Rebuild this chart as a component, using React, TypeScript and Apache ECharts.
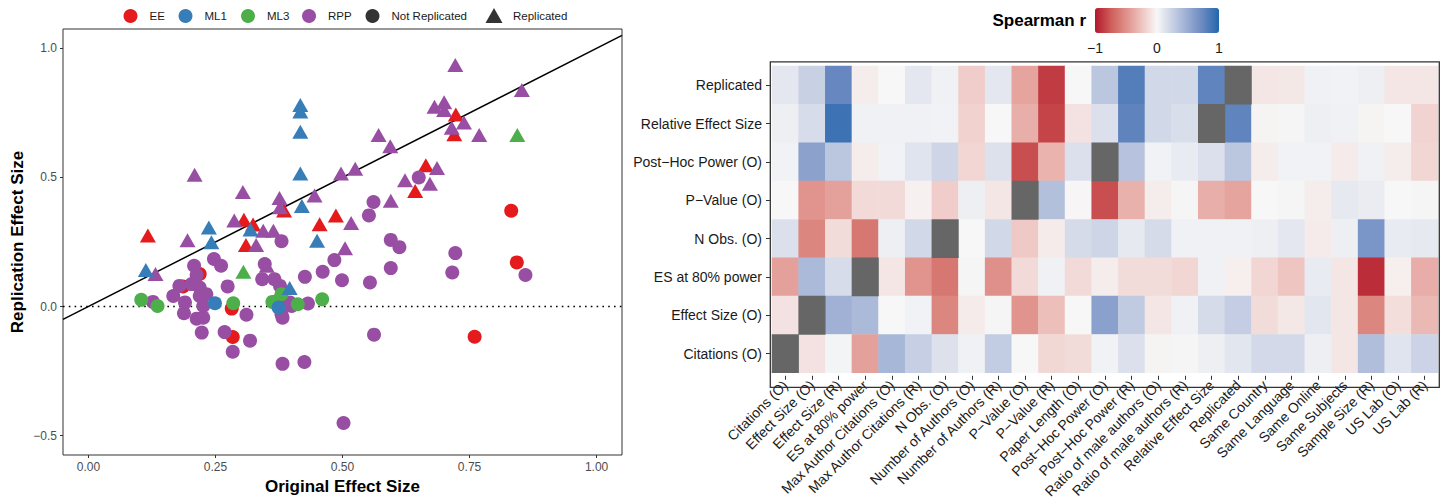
import React, { useEffect, useRef } from "react";
import * as echarts from "echarts";

// ---------- Scatter data (original vs replication effect size) ----------
const eeReplicated = [[0.117,0.275],[0.306,0.336],[0.324,0.318],[0.31,0.238],[0.385,0.372],[0.455,0.319],[0.487,0.353],[0.643,0.448],[0.664,0.547],[0.723,0.744],[0.72,0.667]];
const eeNotReplicated = [[0.186,0.078],[0.219,0.126],[0.282,-0.008],[0.284,-0.118],[0.76,-0.117],[0.832,0.371],[0.843,0.171]];
const ml1Replicated = [[0.113,0.142],[0.237,0.306],[0.242,0.249],[0.319,0.298],[0.417,0.781],[0.417,0.755],[0.417,0.677],[0.417,0.515],[0.42,0.389],[0.45,0.255],[0.396,0.072]];
const ml1NotReplicated = [[0.249,0.013],[0.374,-0.004]];
const ml3Replicated = [[0.305,0.135],[0.844,0.664]];
const ml3NotReplicated = [[0.104,0.026],[0.136,0.002],[0.285,0.013],[0.362,0.018],[0.38,0.048],[0.412,0.009],[0.46,0.028]];
const rppReplicated = [[0.132,0.126],[0.195,0.257],[0.209,0.51],[0.287,0.333],[0.304,0.444],[0.33,0.238],[0.344,0.294],[0.364,0.294],[0.351,0.158],[0.376,0.42],[0.377,0.385],[0.445,0.43],[0.505,0.226],[0.517,0.324],[0.497,0.515],[0.525,0.534],[0.571,0.664],[0.594,0.621],[0.595,0.41],[0.623,0.489],[0.672,0.476],[0.686,0.537],[0.681,0.774],[0.7,0.791],[0.7,0.761],[0.715,0.693],[0.739,0.713],[0.722,0.936],[0.769,0.664],[0.853,0.839]];
const rppNotReplicated = [[0.127,0.018],[0.167,0.041],[0.179,0.08],[0.188,-0.026],[0.19,0.016],[0.203,0.087],[0.208,0.158],[0.213,0.122],[0.219,0.074],[0.219,0.041],[0.232,0.048],[0.226,0.002],[0.213,-0.047],[0.226,-0.043],[0.223,-0.101],[0.247,0.184],[0.261,0.158],[0.274,0.078],[0.268,-0.099],[0.311,-0.032],[0.318,-0.132],[0.284,-0.175],[0.342,0.106],[0.347,0.165],[0.366,0.106],[0.377,0.08],[0.372,0.022],[0.38,-0.03],[0.382,-0.043],[0.38,0.253],[0.396,0.016],[0.4,0.002],[0.432,0.012],[0.426,0.115],[0.461,0.135],[0.484,0.18],[0.499,0.102],[0.554,0.093],[0.552,0.353],[0.561,0.405],[0.595,0.149],[0.595,0.258],[0.612,0.23],[0.65,0.5],[0.716,0.132],[0.722,0.207],[0.86,0.122],[0.382,-0.222],[0.425,-0.215],[0.502,-0.451],[0.562,-0.109]];

const xTicks = [0, 0.25, 0.5, 0.75, 1];
const yTicks = [-0.5, 0, 0.5, 1];
const ablineSlope = 1;
const ablineIntercept = 0;
const hlineY = 0;

const legendNames = ["EE", "ML1", "ML3", "RPP", "Not Replicated", "Replicated"];

// ---------- Heatmap data (Spearman r) ----------
const colLabels = ["Citations (O)","Effect Size (O)","Effect Size (R)","ES at 80% power","Max Author Citations (O)","Max Author Citations (R)","N Obs. (O)","Number of Authors (O)","Number of Authors (R)","P\u2212Value (O)","P\u2212Value (R)","Paper Length (O)","Post\u2212Hoc Power (O)","Post\u2212Hoc Power (R)","Ratio of male authors (O)","Ratio of male authors (R)","Relative Effect Size","Replicated","Same Country","Same Language","Same Online","Same Subjects","Sample Size (R)","US Lab (O)","US Lab (R)"];
const rowLabels = ["Replicated","Relative Effect Size","Post\u2212Hoc Power (O)","P\u2212Value (O)","N Obs. (O)","ES at 80% power","Effect Size (O)","Citations (O)"];

const rReplicated = [0.1,0.25,0.75,-0.05,0,0.1,0.04,-0.2,0.1,-0.4,-0.87,0,0.32,0.82,0.2,0.2,0.77,null,-0.08,-0.07,0.04,0.03,0.05,-0.08,-0.08];
const rRelativeES = [0.05,0.17,0.9,0.04,0.04,0.04,0.03,-0.18,0,-0.35,-0.84,-0.1,0.15,0.78,0.2,0.16,null,0.77,-0.02,0.01,0.05,0.04,-0.02,0,-0.17];
const rPostHocO = [0.03,0.56,0.32,-0.05,0.03,0.12,0.22,-0.16,0.14,-0.8,-0.33,0.15,null,0.34,0.03,0.08,0.15,0.32,-0.05,0.03,0.03,-0.06,0.04,-0.05,-0.16];
const rPValueO = [0,-0.48,-0.42,-0.14,-0.14,-0.03,-0.2,0.05,-0.08,null,0.36,-0.01,-0.8,-0.34,-0.05,0.01,-0.35,-0.4,0,0.01,-0.05,0.09,0.07,0,0.01];
const rNObsO = [0.15,-0.55,-0.13,-0.62,0.05,0.2,null,0,0.2,-0.22,-0.06,0.18,0.22,0.09,0.18,0.04,0.04,0.04,0.05,0.1,-0.06,0.05,0.65,0.08,0.09];
const rES80 = [-0.42,0.4,0.17,null,-0.08,-0.48,-0.62,0.01,-0.5,-0.14,0.04,-0.14,-0.05,-0.13,-0.13,-0.16,0.04,-0.04,-0.16,-0.24,0.08,-0.08,-0.92,-0.04,-0.36];
const rEffectSizeO = [-0.1,null,0.46,0.4,0,0.03,-0.55,-0.06,0.01,-0.48,-0.27,0,0.57,0.29,-0.08,0.04,0.18,0.27,-0.13,-0.07,0.11,-0.08,-0.55,-0.12,-0.3];
const rCitationsO = [null,-0.1,0.02,-0.42,0.42,0.26,0.14,0.04,0.28,0,-0.15,-0.13,0.03,0.15,-0.02,0.01,0.05,0.11,0.19,0.19,0.05,-0.08,0.37,0.12,0.23];

const colorStops = ["#b2182b","#ce5c58","#e0908a","#eec3bf","#f7f7f7","#c8d0e4","#98abd2","#6687bf","#2166ac"];
const diagonalColor = "#666666";
const colorbarTicks = [-1, 0, 1];

const FONT = "'Liberation Sans', Arial, Helvetica, sans-serif";

export default function App() {
  const ref = useRef<HTMLDivElement>(null);
  useEffect(() => {
    document.body.style.margin = "0";
    const chart = echarts.init(ref.current!, null, { renderer: "svg" });

    const CIRC = 14;
    const TRI: [number, number] = [16, 14];
    const mk = (circ: number[][], tri: number[][]) => [
      ...circ.map((p) => ({ value: p, symbol: "circle", symbolSize: CIRC })),
      ...tri.map((p) => ({ value: p, symbol: "triangle", symbolSize: TRI })),
    ];
    const groups = [
      { name: "EE", color: "#E41A1C", data: mk(eeNotReplicated, eeReplicated) },
      { name: "RPP", color: "#984EA3", data: mk(rppNotReplicated, rppReplicated) },
      { name: "ML3", color: "#4DAF4A", data: mk(ml3NotReplicated, ml3Replicated) },
      { name: "ML1", color: "#377EB8", data: mk(ml1NotReplicated, ml1Replicated) },
    ];

    const xMin = -0.05, xMax = 1.05, yMin = -0.575, yMax = 1.075;

    const rows = [rReplicated, rRelativeES, rPostHocO, rPValueO, rNObsO, rES80, rEffectSizeO, rCitationsO];
    const heat: any[] = [];
    const diag: any[] = [];
    rows.forEach((row, ri) => row.forEach((v, ci) => {
      if (v === null) diag.push([ci, ri, 1]);
      else heat.push([ci, ri, v]);
    }));

    const scatterSeries = groups.map((g) => ({
      type: "scatter", name: g.name, xAxisIndex: 0, yAxisIndex: 0,
      symbol: "circle", symbolSize: CIRC,
      itemStyle: { color: g.color, opacity: 1 },
      data: g.data, z: 3, emphasis: { disabled: true },
    }));

    const hmLeft = 772, hmTop = 66, hmW = 666, hmH = 318;
    const cbLeft = 1095, cbTop = 8, cbLen = 124, cbThick = 25;

    // legend key centres (layout only)
    const legendCenters = [137.5, 192.5, 255, 316, 379.5, 494];
    const legends = legendNames.map((n, i) => {
      const isTri = n === "Replicated";
      const w = isTri ? 17 : 28;
      return {
        data: [n],
        left: legendCenters[i] - w / 2, top: isTri ? 8 : 9, padding: 0,
        itemWidth: w, itemHeight: isTri ? 15 : 14,
        textStyle: { fontSize: 11.5, color: "#1a1a1a", fontFamily: FONT, padding: isTri ? [0, 0, 0, 5.5] : 0 },
        selectedMode: false,
      };
    });

    const option: any = {
      animation: false,
      textStyle: { fontFamily: FONT },
      legend: legends,
      grid: [
        { left: 63, top: 29, width: 559, height: 426, show: true, borderColor: "#333", borderWidth: 1, backgroundColor: "#fff" },
        { left: hmLeft, top: hmTop, width: hmW, height: hmH },
      ],
      xAxis: [
        {
          type: "value", gridIndex: 0, min: xMin, max: xMax,
          name: "Original Effect Size", nameLocation: "middle", nameGap: 22,
          nameTextStyle: { fontSize: 17, fontWeight: "bold", color: "#000", fontFamily: FONT },
          axisLine: { show: false, onZero: false }, splitLine: { show: false },
          axisTick: { show: true, customValues: xTicks, length: 3, lineStyle: { color: "#333" } },
          axisLabel: { customValues: xTicks, fontSize: 12, color: "#4d4d4d", margin: 6, formatter: (v: number) => v.toFixed(2) },
        },
        {
          type: "category", gridIndex: 1, data: colLabels, offset: 3,
          axisLine: { show: false },
          axisTick: { show: true, alignWithLabel: true, length: 4, lineStyle: { color: "#333" } },
          axisLabel: { interval: 0, rotate: 45, fontSize: 14, color: "#1a1a1a", margin: 7 },
          splitLine: { show: false },
        },
      ],
      yAxis: [
        {
          type: "value", gridIndex: 0, min: yMin, max: yMax,
          name: "Replication Effect Size", nameLocation: "middle", nameGap: 37,
          nameTextStyle: { fontSize: 17, fontWeight: "bold", color: "#000", fontFamily: FONT },
          axisLine: { show: false, onZero: false }, splitLine: { show: false },
          axisTick: { show: true, customValues: yTicks, length: 3, lineStyle: { color: "#333" } },
          axisLabel: { customValues: yTicks, fontSize: 12, color: "#4d4d4d", margin: 6,
            formatter: (v: number) => (v < 0 ? "\u2212" : "") + Math.abs(v).toFixed(1) },
        },
        {
          type: "category", gridIndex: 1, data: rowLabels, inverse: true, offset: 2,
          axisLine: { show: false },
          axisTick: { show: true, alignWithLabel: true, length: 4, lineStyle: { color: "#333" } },
          axisLabel: { interval: 0, fontSize: 14, color: "#1a1a1a", margin: 8 },
          splitLine: { show: false },
        },
      ],
      visualMap: [
        {
          type: "continuous", min: -1, max: 1, seriesIndex: 8,
          orient: "horizontal", left: cbLeft, top: cbTop, padding: 0,
          itemWidth: cbThick, itemHeight: cbLen, calculable: false, hoverLink: false,
          inRange: { color: colorStops },
        },
        {
          type: "continuous", min: -1, max: 1, seriesIndex: 9, show: false,
          inRange: { color: [diagonalColor, diagonalColor] },
        },
      ],
      graphic: [
        { type: "rect", silent: true, shape: { x: 770.3, y: 61.8, width: 669, height: 325.5 },
          style: { fill: "none", stroke: "#333", lineWidth: 1.3 }, z: 10 },
        { type: "text", silent: true, x: cbLeft - 9, y: cbTop + cbThick / 2,
          style: { text: "Spearman r", font: `bold 17px ${FONT}`, fill: "#000", textAlign: "right", textVerticalAlign: "middle" } },
        ...colorbarTicks.map((t) => ({
          type: "text", silent: true, x: cbLeft + ((t + 1) / 2) * cbLen, y: 48,
          style: { text: t < 0 ? "\u2212" + Math.abs(t) : String(t), font: `14px ${FONT}`, fill: "#1a1a1a", textAlign: "center", textVerticalAlign: "middle" },
        })),
      ],
      series: [
        ...scatterSeries,
        { type: "scatter", name: "Not Replicated", symbol: "circle", symbolSize: CIRC, xAxisIndex: 0, yAxisIndex: 0, itemStyle: { color: "#000" }, data: [] },
        { type: "scatter", name: "Replicated", symbol: "triangle", symbolSize: TRI, xAxisIndex: 0, yAxisIndex: 0, itemStyle: { color: "#000" }, data: [] },
        {
          type: "line", xAxisIndex: 0, yAxisIndex: 0, symbol: "none", silent: true, z: 1,
          lineStyle: { color: "#000", width: 1.5 },
          data: [[xMin, ablineIntercept + ablineSlope * xMin], [xMax, ablineIntercept + ablineSlope * xMax]],
        },
        {
          type: "line", xAxisIndex: 0, yAxisIndex: 0, symbol: "none", silent: true, z: 1,
          lineStyle: { color: "#000", width: 1.6, type: [1.6, 4.2] },
          data: [[xMin, hlineY], [xMax, hlineY]],
        },
        {
          type: "heatmap", xAxisIndex: 1, yAxisIndex: 1, data: heat,
          emphasis: { disabled: true }, itemStyle: { borderWidth: 0 },
        },
        {
          type: "heatmap", xAxisIndex: 1, yAxisIndex: 1, data: diag,
          emphasis: { disabled: true }, itemStyle: { borderWidth: 0 },
        },
      ],
    };
    chart.setOption(option);
    return () => chart.dispose();
  }, []);
  return <div ref={ref} style={{ width: 1444, height: 501 }} />;
}
